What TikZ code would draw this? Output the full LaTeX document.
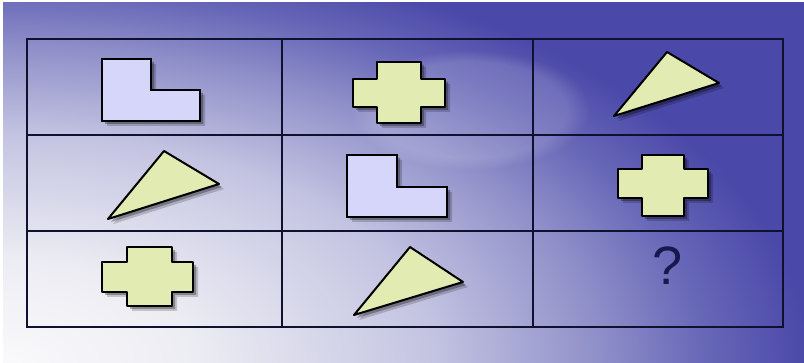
\documentclass[tikz,border=0pt]{standalone}
\usepackage{fontspec}
\setmainfont{Liberation Sans}
\usetikzlibrary{fadings}
\definecolor{bgA}{RGB}{250,250,252}
\definecolor{bgB}{RGB}{236,236,243}
\definecolor{bgC}{RGB}{196,196,226}
\definecolor{bgD}{RGB}{145,145,202}
\definecolor{bgE}{RGB}{104,104,184}
\definecolor{bgF}{RGB}{74,72,168}
\definecolor{lfill}{RGB}{214,214,250}
\definecolor{yfill}{RGB}{226,236,178}
\definecolor{gridc}{RGB}{16,16,48}
\definecolor{qcol}{RGB}{24,24,78}
\pgfdeclareradialshading{bgrad}{\pgfpoint{0bp}{0bp}}{%
 color(0bp)=(bgA); color(5.5bp)=(bgB); color(12bp)=(bgC); color(16.5bp)=(bgD); color(19.5bp)=(bgE); color(22.5bp)=(bgF); color(50bp)=(bgF)}
\tikzset{
  gridline/.style={draw=gridc, line width=2pt},
  lshape/.style={fill=lfill, draw=black, line width=2.2pt, line join=miter},
  yshape/.style={fill=yfill, draw=black, line width=2pt, line join=round},
  shadowA/.style={fill=black, opacity=0.18, draw=none},
  shadowB/.style={fill=black, opacity=0.3, draw=none},
}
\newcommand\withshadow[2]{%
  \fill[shadowA, shift={(5,5)}] #2;
  \fill[shadowB, shift={(3,3)}] #2;
  \filldraw[#1] #2;}
\begin{document}
\begin{tikzpicture}[x=1pt, y=-1pt]
\useasboundingbox (0,0) rectangle (804,363);
% background
\begin{scope}
  \clip (0,0) rectangle (804,363);
  \shade[shading=bgrad] (-900,-112) rectangle (900,838);
  \fill[white, opacity=0.14, path fading=circle with fuzzy edge 20 percent] (470,110) ellipse (120 and 60);
  \fill[white] (0,0) rectangle (804,2);
  \fill[white] (0,0) rectangle (3,363);
\end{scope}
% grid
\coordinate (g00) at (27,39);
\coordinate (g11) at (783,327);
\draw[gridline] (g00) rectangle (g11);
\draw[gridline] (282,39) -- (282,327);
\draw[gridline] (533,39) -- (533,327);
\draw[gridline] (27,135) -- (783,135);
\draw[gridline] (27,231) -- (783,231);
% row 1
\withshadow{lshape}{(102,59) -- (151,59) -- (151,90) -- (200,90) -- (200,121) -- (102,121) -- cycle}
\withshadow{yshape}{(377,62) -- (421,62) -- (421,79) -- (445,79) -- (445,107) -- (421,107) -- (421,123) -- (377,123) -- (377,107) -- (353,107) -- (353,79) -- (377,79) -- cycle}
\withshadow{yshape}{(667,52) -- (719,83) -- (614,116) -- cycle}
% row 2
\withshadow{yshape}{(164,151) -- (219,184) -- (108,219) -- cycle}
\withshadow{lshape}{(347,155) -- (397,155) -- (397,187) -- (447,187) -- (447,217) -- (347,217) -- cycle}
\withshadow{yshape}{(642,155) -- (684,155) -- (684,169) -- (708,169) -- (708,198) -- (684,198) -- (684,216) -- (642,216) -- (642,198) -- (618,198) -- (618,169) -- (642,169) -- cycle}
% row 3
\withshadow{yshape}{(127,247) -- (172,247) -- (172,262) -- (193,262) -- (193,292) -- (172,292) -- (172,306) -- (127,306) -- (127,292) -- (102,292) -- (102,262) -- (127,262) -- cycle}
\withshadow{yshape}{(410,247) -- (463,282) -- (354,315) -- cycle}
\node[text=qcol, font=\fontsize{54}{54}\selectfont, inner sep=0pt, anchor=base] (q) at (668,285) {?};
\end{tikzpicture}
\end{document}
